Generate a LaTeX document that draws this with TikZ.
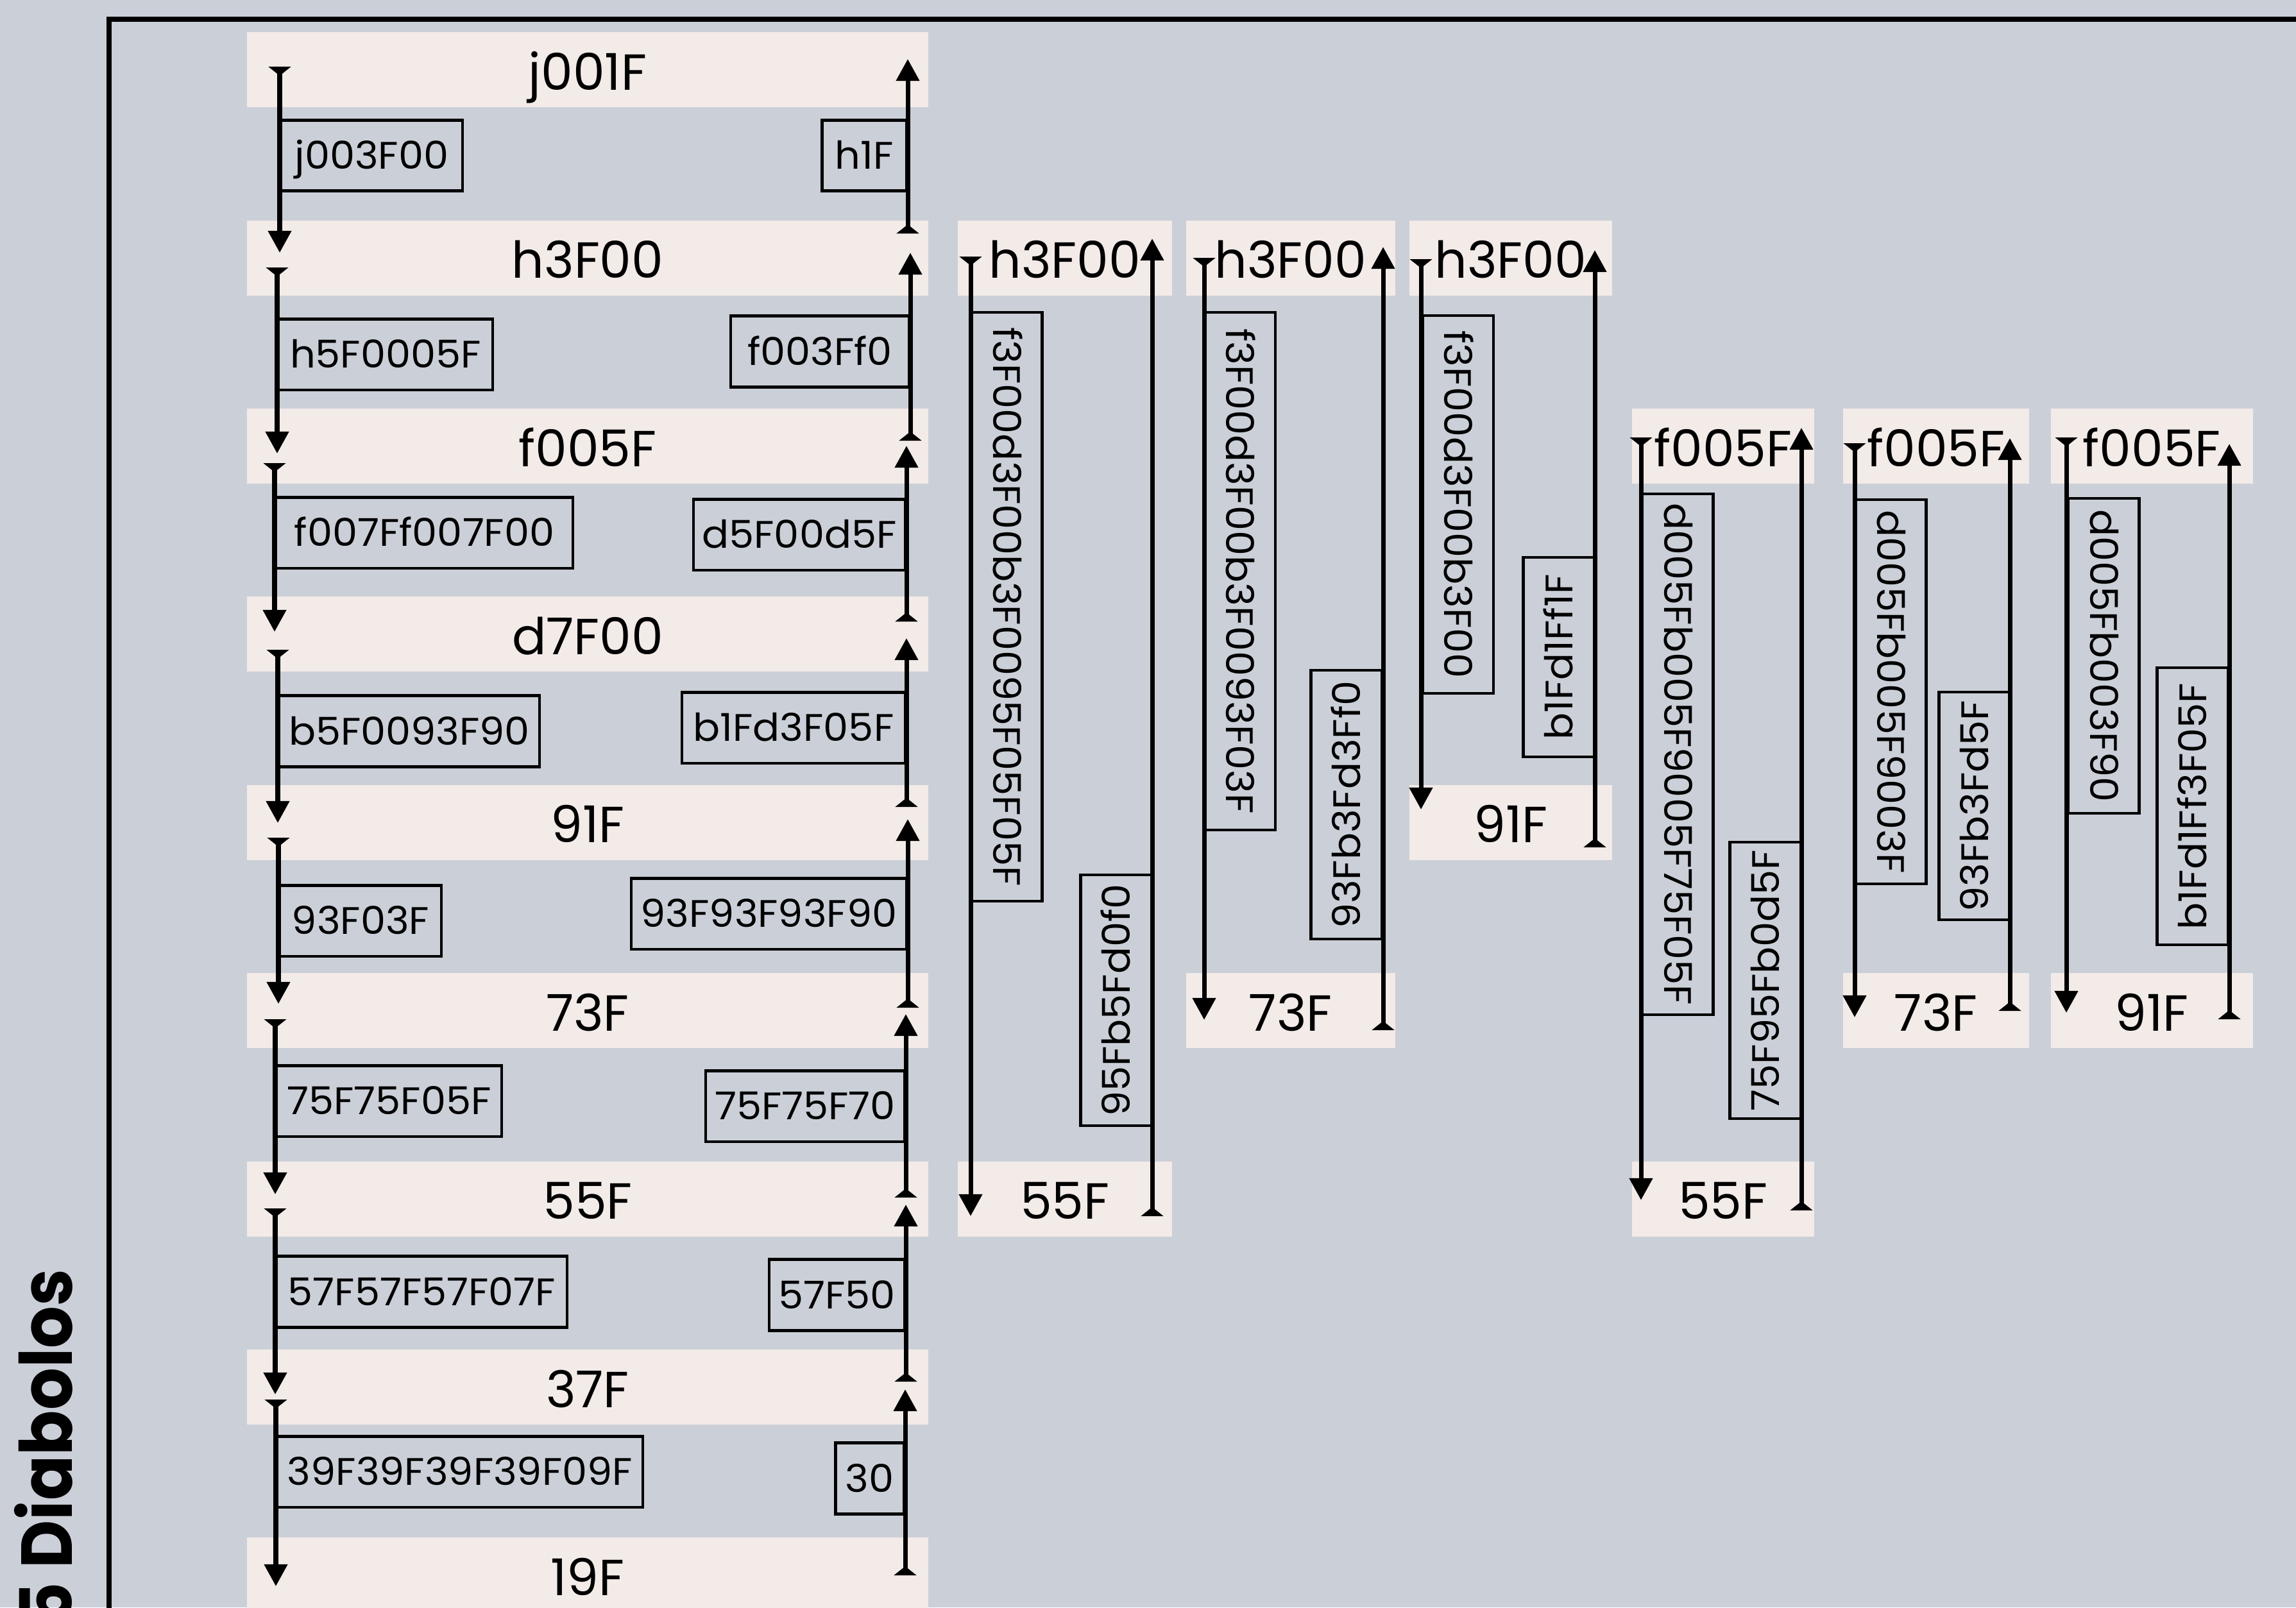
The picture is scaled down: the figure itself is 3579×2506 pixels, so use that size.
\documentclass[tikz,border=0pt]{standalone}
\usepackage{fontspec}
\setmainfont{Poppins}
\newfontfamily\bandfont[FakeStretch=1.0]{Poppins}
\newfontfamily\labfont[FakeStretch=1.04]{Poppins}
\newfontfamily\titlefont[FakeStretch=0.92]{Poppins}
\usetikzlibrary{arrows.meta}
\definecolor{bg}{RGB}{203,207,216}
\definecolor{bandc}{RGB}{243,235,232}
\tikzset{
  band/.style={fill=bandc, draw=none, minimum height=1.17cm, inner sep=0pt,
    text height=0.63cm, text depth=0cm, anchor=north west,
    font=\bandfont\fontsize{22.5}{27}\selectfont},
  lab/.style={draw=black, line width=1.3pt, minimum height=1.105cm, inner sep=0pt,
    text height=0.42cm, text depth=0cm, font=\labfont\fontsize{17}{20}\selectfont},
  dn/.style={line width=2pt, {Triangle[reversed,width=9.8pt,length=4pt]}-{Triangle[width=10pt,length=9.7pt]}},
  frame/.style={line width=2pt},
  title/.style={rotate=90, anchor=base east, inner sep=0pt, font=\titlefont\bfseries\fontsize{32}{36}\selectfont}
}
\newcommand{\mkband}[5]{% name, x1, x2, row, text
  \pgfmathsetmacro{\lbtop}{49.5+293.4*#4}\pgfmathsetmacro{\lbw}{(#3-#2)/100}%
  \node[band, minimum width=\lbw cm] (#1) at (#2,\lbtop) {#5};}
\newcommand{\mklab}[7]{% rot, name, x1, x2, y1, y2, text
  \pgfmathsetmacro{\lcx}{(#3+#4)/2}\pgfmathsetmacro{\lcy}{(#5+#6)/2}%
  \ifnum#1=0
    \pgfmathsetmacro{\lww}{(#4-#3-4.5)/100}%
  \else
    \pgfmathsetmacro{\lww}{(#6-#5-4.5)/100}%
  \fi
  \node[lab, rotate=#1, minimum width=\lww cm] (#2) at (\lcx,\lcy) {#7};}
\newcommand{\mkarr}[4]{% name, x, ystart, yend
  \coordinate (#1a) at (#2,#3); \coordinate (#1b) at (#2,#4);
  \draw[dn] (#1a) -- (#1b);}
\begin{document}
\begin{tikzpicture}[x=0.01cm,y=-0.01cm]
\useasboundingbox (0,0) rectangle (3579,2506);
\clip (0,0) rectangle (3579,2506);
\fill[bg] (0,0) rectangle (3579,2506);
\draw[frame] (170,2700) -- (170,30) -- (3700,30);
\node[title] (title) at (112,1978) {5 Diabolos};
% left column bands
\mkband{b0}{384}{1446}{0}{j001F}
\mkband{b1}{384}{1446}{1}{h3F00}
\mkband{b2}{384}{1446}{2}{f005F}
\mkband{b3}{384}{1446}{3}{d7F00}
\mkband{b4}{384}{1446}{4}{91F}
\mkband{b5}{384}{1446}{5}{73F}
\mkband{b6}{384}{1446}{6}{55F}
\mkband{b7}{384}{1446}{7}{37F}
\mkband{b8}{384}{1446}{8}{19F}
% right diagrams bands
\mkband{at}{1492}{1826}{1}{h3F00}
\mkband{ab}{1492}{1826}{6}{55F}
\mkband{bt}{1848}{2174}{1}{h3F00}
\mkband{bb}{1848}{2174}{5}{73F}
\mkband{ct}{2196}{2512}{1}{h3F00}
\mkband{cb}{2196}{2512}{4}{91F}
\mkband{dt}{2543}{2827}{2}{f005F}
\mkband{db}{2543}{2827}{6}{55F}
\mkband{et}{2872}{3162}{2}{f005F}
\mkband{eb}{2872}{3162}{5}{73F}
\mkband{ft}{3196}{3511}{2}{f005F}
\mkband{fb}{3196}{3511}{5}{91F}
% left column labels
\mklab{0}{l1}{436}{723}{185}{300}{j003F00}
\mklab{0}{r1}{1279}{1415}{185}{300}{h1F}
\mklab{0}{l2}{432}{770}{495}{610}{h5F0005F}
\mklab{0}{r2}{1137}{1419}{490}{606}{f003Ff0}
\mklab{0}{l3}{428}{895}{773}{888}{f007Ff007F00}
\mklab{0}{r3}{1079}{1413}{777}{890}{d5F00d5F}
\mklab{0}{l4}{433}{843}{1083}{1197}{b5F0093F90}
\mklab{0}{r4}{1061}{1413}{1078}{1191}{b1Fd3F05F}
\mklab{0}{l5}{434}{690}{1378}{1493}{93F03F}
\mklab{0}{r5}{982}{1415}{1367}{1482}{93F93F93F90}
\mklab{0}{l6}{429}{784}{1660}{1773}{75F75F05F}
\mklab{0}{r6}{1098}{1412}{1668}{1781}{75F75F70}
\mklab{0}{l7}{429}{886}{1957}{2071}{57F57F57F07F}
\mklab{0}{r7}{1197}{1412}{1962}{2076}{57F50}
\mklab{0}{l8}{430}{1004}{2237}{2352}{39F39F39F39F09F}
\mklab{0}{r8}{1300}{1411}{2248}{2362}{30}
% right diagrams labels
\mklab{-90}{al}{1513}{1625}{485}{1407}{f3F00d3F00b3F0095F05F05F}
\mklab{90}{ar}{1684}{1796}{1362}{1757}{95Fb5Fd0f0}
\mklab{-90}{bl}{1877}{1988}{485}{1296}{f3F00d3F00b3F0093F03F}
\mklab{90}{br}{2042}{2156}{1043}{1466}{93Fb3Fd3Ff0}
\mklab{-90}{cl}{2215}{2330}{490}{1083}{f3F00d3F00b3F00}
\mklab{90}{cr}{2374}{2486}{867}{1182}{b1Fd1Ff1F}
\mklab{-90}{dl}{2558}{2672}{768}{1584}{d005Fb005F9005F75F05F}
\mklab{90}{dr}{2696}{2808}{1311}{1746}{75F95Fb0d5F}
\mklab{-90}{el}{2891}{3003}{777}{1380}{d005Fb005F9003F}
\mklab{90}{er}{3023}{3133}{1077}{1436}{93Fb3Fd5F}
\mklab{-90}{fl}{3221}{3337}{775}{1270}{d005Fb003F90}
\mklab{90}{fr}{3361}{3475}{1039}{1475}{b1Fd1Ff3F05F}
% left column arrows
\mkarr{d1}{436}{104}{394}
\mkarr{d2}{432}{417}{707}
\mkarr{d3}{428}{722}{985}
\mkarr{d4}{433}{1013}{1283}
\mkarr{d5}{434}{1306}{1565}
\mkarr{d6}{429}{1589}{1862}
\mkarr{d7}{429}{1884}{2174}
\mkarr{d8}{430}{2182}{2473}
\mkarr{u1}{1415}{364}{92}
\mkarr{u2}{1419}{687}{394}
\mkarr{u3}{1413}{969}{695}
\mkarr{u4}{1413}{1258}{995}
\mkarr{u5}{1415}{1571}{1277}
\mkarr{u6}{1412}{1867}{1581}
\mkarr{u7}{1412}{2154}{1878}
\mkarr{u8}{1411}{2456}{2166}
% right diagrams arrows
\mkarr{ad}{1513}{400}{1896}
\mkarr{au}{1796}{1896}{372}
\mkarr{bd}{1877}{402}{1590}
\mkarr{bu}{2156}{1606}{385}
\mkarr{cd}{2215}{404}{1262}
\mkarr{cu}{2486}{1321}{390}
\mkarr{dd}{2558}{682}{1871}
\mkarr{du}{2808}{1887}{667}
\mkarr{ed}{2891}{691}{1586}
\mkarr{eu}{3133}{1576}{683}
\mkarr{fd}{3221}{682}{1579}
\mkarr{fu}{3475}{1589}{692}
\end{tikzpicture}
\end{document}
